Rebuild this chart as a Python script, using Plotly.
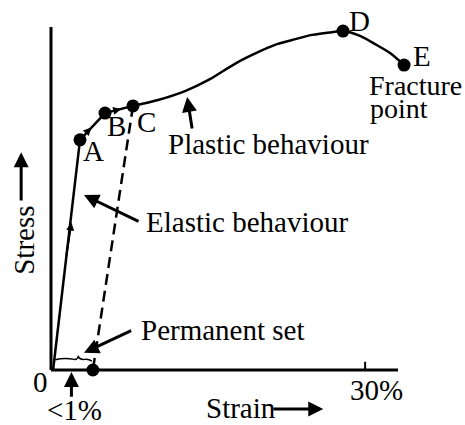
import plotly.graph_objects as go

# ---- data (strain in %, stress in arbitrary units) ----
elastic_strain = [0.2, 2.77]
elastic_stress = [0.0, 67.1]

yield_strain = [2.77, 5.16, 7.83]
yield_stress = [67.1, 74.9, 77.0]

plastic_strain = [7.83, 10.22, 12.80, 15.00, 16.62, 18.24, 19.77, 21.39,
                  23.02, 24.93, 26.84, 27.89, 29.51, 30.95, 32.38, 33.72]
plastic_stress = [77.0, 78.7, 81.3, 84.5, 87.5, 90.4, 92.7, 94.8,
                  96.2, 97.7, 98.5, 98.8, 97.4, 95.0, 92.4, 88.9]

unload_strain = [7.83, 4.0]
unload_stress = [77.0, 0.0]

point_labels = ["A", "B", "C", "D", "E"]
point_strain = [2.77, 5.16, 7.83, 27.89, 33.72]
point_stress = [67.1, 74.9, 77.0, 98.8, 88.9]

perm_set_strain = [4.0]
perm_set_stress = [0.0]

tick_strain = 30
tick_label = "30%"
axis_max_strain = 33.14
axis_max_stress = 100

FONT = "Liberation Serif"
FS = 29
BLACK = "#000000"

fig = go.Figure()

fig.add_trace(go.Scatter(x=elastic_strain, y=elastic_stress, mode="lines",
                         line=dict(color=BLACK, width=2.5), hoverinfo="skip"))
fig.add_trace(go.Scatter(x=yield_strain, y=yield_stress, mode="lines",
                         line=dict(color=BLACK, width=2.5), hoverinfo="skip"))
fig.add_trace(go.Scatter(x=plastic_strain, y=plastic_stress, mode="lines",
                         line=dict(color=BLACK, width=2.5, shape="spline", smoothing=0.8),
                         hoverinfo="skip"))
fig.add_trace(go.Scatter(x=unload_strain, y=unload_stress, mode="lines",
                         line=dict(color=BLACK, width=2.5, dash="11px,6px"), hoverinfo="skip"))
fig.add_trace(go.Scatter(x=point_strain + perm_set_strain,
                         y=point_stress + perm_set_stress, mode="markers",
                         marker=dict(color=BLACK, size=13), cliponaxis=False,
                         hoverinfo="skip"))

shapes = [
    dict(type="line", xref="x", yref="y", x0=0, y0=0, x1=0, y1=axis_max_stress,
         line=dict(color=BLACK, width=3)),
    dict(type="line", xref="x", yref="y", x0=0, y0=0, x1=axis_max_strain, y1=0,
         line=dict(color=BLACK, width=3)),
    dict(type="line", xref="x", yref="y", x0=tick_strain, y0=0, x1=tick_strain, y1=2.4,
         line=dict(color=BLACK, width=2)),
    dict(type="path", xref="x", yref="y",
         path="M 0.4,3.0 Q 1.3,3.7 2.2,3.1 Q 2.5,2.9 2.6,3.9 Q 2.8,2.9 3.2,3.1 Q 3.6,3.3 3.9,2.6",
         line=dict(color=BLACK, width=1.5)),
]

annotations = []
label_shift = {"A": (13, -11), "B": (11, -13), "C": (14, -16), "D": (16, 10), "E": (18, 9)}
for lab, sx, sy in zip(point_labels, point_strain, point_stress):
    dx, dy = label_shift[lab]
    annotations.append(dict(x=sx, y=sy, xref="x", yref="y", text=lab, showarrow=False,
                            xshift=dx, yshift=dy, font=dict(family=FONT, size=FS, color=BLACK)))

def txt(x, y, t, size=FS, **kw):
    d = dict(x=x, y=y, xref="x", yref="y", text=t, showarrow=False,
             font=dict(family=FONT, size=size, color=BLACK))
    d.update(kw)
    annotations.append(d)

def arrow(x0, y0, x1, y1, width=3, size=1.0, head=2):
    annotations.append(dict(x=x1, y=y1, ax=x0, ay=y0, xref="x", yref="y", axref="x", ayref="y",
                            text="", showarrow=True, arrowhead=head, arrowsize=size,
                            arrowwidth=width, arrowcolor=BLACK, standoff=0, startstandoff=0))

txt(30.15, 83.0, "Fracture", size=28, xanchor="left")
txt(30.3, 76.2, "point", size=28, xanchor="left")
txt(20.73, 65.9, "Plastic behaviour")
txt(18.72, 43.1, "Elastic behaviour")
txt(16.4, 11.7, "Permanent set")
txt(-2.6, 37.9, "Stress", textangle=-90)
txt(18.15, -11.1, "Strain")
txt(tick_strain + 1.1, -5.8, tick_label)
txt(-1.05, -3.5, "0")
txt(2.29, -11.7, "&lt;1%")

# annotation arrows
arrow(13.5, 70.0, 13.0, 79.6)          # plastic behaviour
arrow(8.5, 43.1, 3.15, 51.0)           # elastic behaviour
arrow(7.8, 11.7, 3.15, 5.0)            # permanent set
arrow(-2.85, 49.0, -2.85, 63.5)        # stress
arrow(21.1, -11.4, 26.0, -11.4)        # strain
arrow(1.95, -8.2, 1.95, -0.6)          # <1%

# small direction arrows on loading path
arrow(1.45, 33.0, 1.95, 43.0, width=2, size=0.8)
arrow(3.3, 68.9, 3.85, 70.7, width=2, size=0.8)
arrow(6.0, 75.6, 6.7, 76.1, width=2, size=0.8)

fig.update_layout(
    width=465, height=425,
    margin=dict(l=0, r=0, t=0, b=0),
    paper_bgcolor="white", plot_bgcolor="white",
    showlegend=False,
    shapes=shapes, annotations=annotations,
    xaxis=dict(range=[-4.871, 39.54], visible=False, fixedrange=True),
    yaxis=dict(range=[-16.03, 107.87], visible=False, fixedrange=True),
)

fig.write_html("out.html",
               config={"displayModeBar": False, "staticPlot": True},
               post_script="document.body.style.margin='0';document.body.style.overflow='hidden';")
